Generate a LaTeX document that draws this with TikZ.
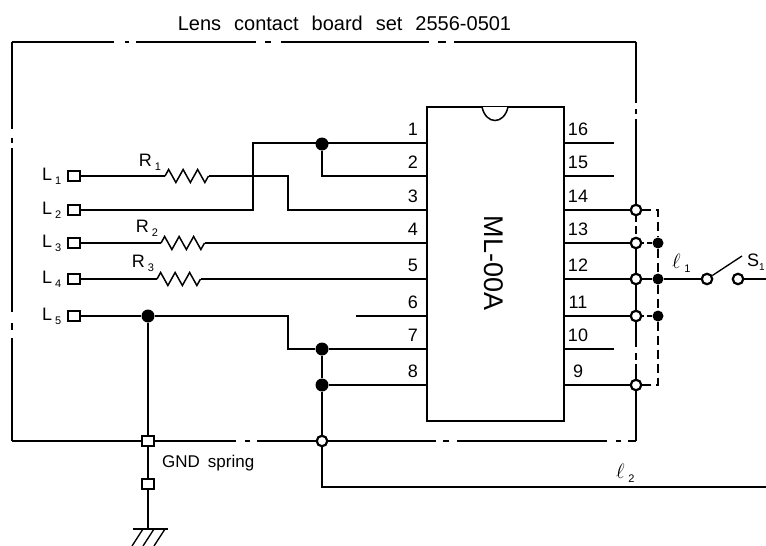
\documentclass[tikz,border=0pt]{standalone}
\usepackage{fontspec}
\setmainfont{Liberation Sans}
\usetikzlibrary{decorations.pathmorphing}
\newcommand{\sublab}[2]{#1\,\raisebox{-4pt}{\fontsize{11}{11}\selectfont #2}}
\newcommand{\elllab}[1]{\fontsize{22}{22}\selectfont$\ell$\,\raisebox{-4pt}{\fontsize{11}{11}\selectfont #1}}
\tikzset{
  wire/.style={line width=1.35pt},
  txt/.style={inner sep=0pt,font=\fontsize{18}{18}\selectfont},
  term/.style={draw,fill=white,line width=1.9pt,minimum width=12.5pt,minimum height=10.5pt,inner sep=0pt},
  opn/.style={circle,draw,fill=white,line width=2.2pt,minimum size=10.5pt,inner sep=0pt},
  dot/.style={circle,fill=black,minimum size=13pt,inner sep=0pt},
  res/.style={line width=1.5pt,decorate,decoration={zigzag,segment length=14.5pt,amplitude=6.5pt}}
}
\begin{document}
\begin{tikzpicture}[x=1pt,y=-1pt]
\useasboundingbox (0,0) rectangle (766,546);
\pgfmathsetmacro{\icl}{427}
\pgfmathsetmacro{\icr}{564}
\pgfmathsetmacro{\rail}{636}
% the chip
\node[draw,line width=1.5pt,minimum width=137pt,minimum height=314pt,inner sep=0pt] (ic) at (495.5,264) {};
\fill[white] (482,107) .. controls (486,125) and (504,125) .. (508,107) -- cycle;
\draw[line width=1.5pt] (482,107) .. controls (486,125) and (504,125) .. (508,107);
\node[rotate=-90,inner sep=0pt,font=\fontsize{27}{27}\selectfont] (icname) at (494,263) {ML-00A};
\node[txt,font=\fontsize{20}{20}\selectfont] (title) at (344.5,23) {\spaceskip=13pt Lens contact board set 2556-0501};
% pins
\foreach \n/\y in {1/143,2/176,3/210,4/243,5/279,6/316,7/349,8/385}{
  \coordinate (p\n) at (\icl,\y);
  \node[txt] (n\n) at (413,\y-14) {\n};
}
\foreach \n/\y in {16/143,15/176,14/210,13/243,12/279,11/316,10/349,9/385}{
  \coordinate (p\n) at (\icr,\y);
  \node[txt] (n\n) at (578,\y-14) {\n};
}
\foreach \n/\y in {16/143,15/176,10/349}{
  \coordinate (e\n) at (614,\y);
  \draw[wire] (p\n) -- (e\n);
}
% lens terminals
\foreach \n/\y in {1/176,2/210,3/243,4/279,5/316}{
  \node[term] (L\n) at (74,\y) {};
  \node[txt,anchor=west] (Lt\n) at (42,\y) {\sublab{L}{\n}};
}
% junctions
\node[dot] (d1) at (322,144) {};
\node[dot] (d5) at (148,316) {};
\node[dot] (d7) at (322,349) {};
\node[dot] (d8) at (322,385) {};
\node[opn] (c14) at (\rail,210) {};
\node[opn] (c13) at (\rail,243) {};
\node[opn] (c12) at (\rail,279) {};
\node[opn] (c11) at (\rail,316) {};
\node[opn] (c9) at (\rail,385) {};
\node[dot,minimum size=11pt] (f13) at (658,243) {};
\node[dot,minimum size=11pt] (f12) at (658,279) {};
\node[dot,minimum size=11pt] (f11) at (658,316) {};
\node[term] (gs1) at (148,441) {};
\node[term] (gs2) at (148,484) {};
\node[opn] (cg) at (322,441) {};
\node[opn] (sw1) at (707,279) {};
\node[opn] (sw2) at (738,279) {};
% resistors
\coordinate (r1a) at (165,176);
\coordinate (r1b) at (208.5,176);
\coordinate (r2a) at (161,243);
\coordinate (r2b) at (204.5,243);
\coordinate (r3a) at (157,279);
\coordinate (r3b) at (200.5,279);
\draw[res] (r1a) -- (r1b);
\draw[res] (r2a) -- (r2b);
\draw[res] (r3a) -- (r3b);
\node[txt] (R1) at (150,162) {\sublab{R}{1}};
\node[txt] (R2) at (147,228) {\sublab{R}{2}};
\node[txt] (R3) at (143,263) {\sublab{R}{3}};
% wires on the left
\coordinate (k1) at (288,176);
\coordinate (k2) at (253,210);
\coordinate (k5) at (288,316);
\coordinate (k6) at (356,316);
\coordinate (k2b) at (322,176);
\draw[wire] (L1) -- (r1a);
\draw[wire] (r1b) -- (k1) -- (k1 |- p3) -- (p3);
\draw[wire] (L2) -- (k2) -- (k2 |- p1) -- (p1);
\draw[wire] (L3) -- (r2a);
\draw[wire] (r2b) -- (p4);
\draw[wire] (L4) -- (r3a);
\draw[wire] (r3b) -- (p5);
\draw[wire] (L5) -- (d5);
\draw[wire] (d5) -- (k5) -- (k5 |- p7) -- (d7);
\draw[wire] (d7) -- (p7);
\draw[wire] (k6) -- (p6);
\draw[wire] (d1) -- (k2b) -- (p2);
\draw[wire] (d8) -- (p8);
\draw[wire] (d7) -- (d8);
\draw[wire] (d8) -- (cg);
\draw[wire] (d5) -- (gs1);
\draw[wire] (gs1) -- (gs2);
% the board outline
\coordinate (tl) at (12,42);
\coordinate (tr) at (\rail,42);
\coordinate (bl) at (12,441);
\coordinate (br) at (\rail,441);
\draw[wire,dash pattern=on 102pt off 11pt on 4pt off 7pt on 120pt off 9pt on 6pt off 10pt on 148pt off 9pt on 8pt off 8pt on 190pt] (tl) -- (tr);
\draw[wire,dash pattern=on 87pt off 9pt on 5pt off 5pt on 164pt off 11pt on 7pt off 8pt on 110pt] (tl) -- (bl);
\draw[wire] (bl) -- (gs1);
\draw[wire,dash pattern=on 81pt off 9pt on 5pt off 7pt on 70pt] (gs1) -- (cg);
\draw[wire,dash pattern=on 108pt off 7pt on 6pt off 8pt on 150pt off 9pt on 5pt off 7pt on 20pt] (cg) -- (br);
\draw[wire,dash pattern=on 61pt off 6pt on 5pt off 5pt on 200pt] (tr) -- (c14);
\draw[wire,dash pattern=on 6pt off 4pt on 8pt off 4pt] (c14) -- (c13);
\draw[wire] (c13) -- (c12);
\draw[wire] (c12) -- (c11);
\draw[wire,dash pattern=on 25pt off 6pt on 7pt off 4pt on 30pt] (c11) -- (c9);
\draw[wire] (c9) -- (br);
% pins to the rail
\draw[wire] (p14) -- (c14);
\draw[wire] (p13) -- (c13);
\draw[wire] (p12) -- (c12);
\draw[wire] (p11) -- (c11);
\draw[wire] (p9) -- (c9);
% dashed link
\coordinate (dt) at (658,210);
\coordinate (db) at (658,385);
\draw[wire,dash pattern=on 9pt off 5pt] (c14) -- (dt) -- (f13);
\draw[wire,dash pattern=on 9pt off 5pt] (f13) -- (f12);
\draw[wire,dash pattern=on 9pt off 5pt] (f12) -- (f11);
\draw[wire,dash pattern=on 9pt off 5pt] (f11) -- (db) -- (c9);
\draw[wire,dash pattern=on 2pt off 3pt on 6pt off 20pt] (c13) -- (f13);
\draw[wire,dash pattern=on 2pt off 3pt on 6pt off 20pt] (c11) -- (f11);
% switch and leads
\coordinate (tip) at (742,256);
\coordinate (sout) at (766,279);
\coordinate (l2c) at (322,487);
\coordinate (l2e) at (766,487);
\draw[wire] (c12) -- (f12);
\draw[wire] (f12) -- (sw1);
\draw[wire] (sw1) -- (tip);
\draw[wire] (sw2) -- (sout);
\draw[wire] (cg) -- (l2c) -- (l2e);
\node[txt,anchor=east] (S1) at (765,262) {S\raisebox{-4pt}{\fontsize{10}{10}\selectfont 1}};
\node[txt,anchor=west] (ell1) at (672,263) {\elllab{1}};
\node[txt,anchor=west] (ell2) at (616,473) {\elllab{2}};
\node[txt,anchor=west,font=\fontsize{17}{17}\selectfont] (gnd) at (162,463) {\spaceskip=8pt GND spring};
% ground
\coordinate (gb) at (148,529);
\coordinate (gl) at (133,529);
\coordinate (gr) at (168,529);
\draw[wire] (gs2) -- (gb);
\draw[wire] (gl) -- (gr);
\foreach \x in {143,154,165}{
  \draw[wire] (\x,529) -- (\x-11,546);
}
\end{tikzpicture}
\end{document}
